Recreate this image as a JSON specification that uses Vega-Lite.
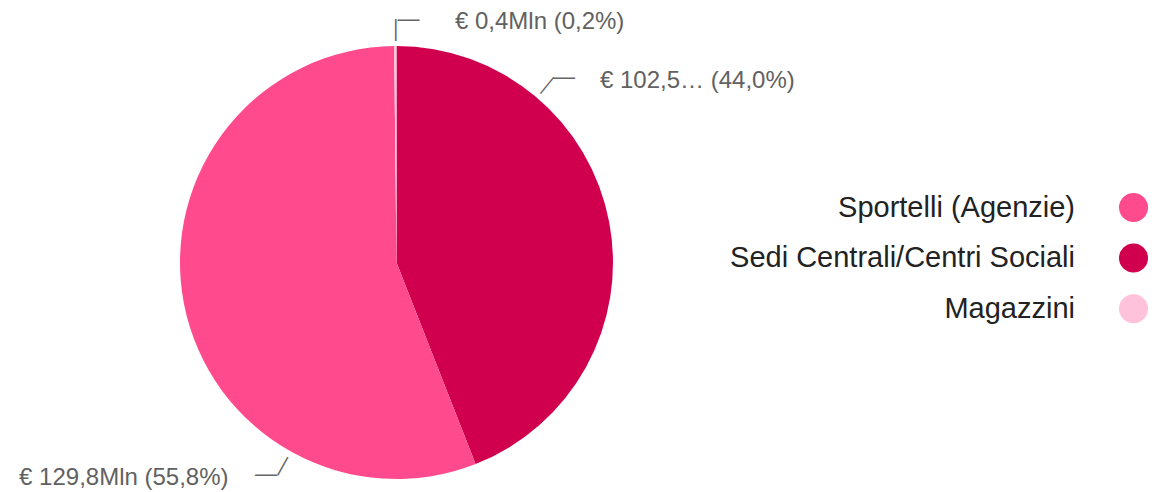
{
  "$schema": "https://vega.github.io/schema/vega-lite/v6.json",
  "width": 433,
  "height": 433,
  "autosize": {"type": "none"},
  "padding": {"left": 180, "top": 46, "right": 548, "bottom": 13},
  "background": "white",
  "config": {"view": {"stroke": null}, "font": "Liberation Sans"},
  "data": {
    "values": [
      {"category": "Sedi Centrali/Centri Sociali", "value": 102.5, "seq": 1, "label": "€ 102,5… (44,0%)"},
      {"category": "Sportelli (Agenzie)", "value": 129.8, "seq": 2, "label": "€ 129,8Mln (55,8%)"},
      {"category": "Magazzini", "value": 0.4, "seq": 3, "label": "€ 0,4Mln (0,2%)"}
    ]
  },
  "encoding": {
    "theta": {"field": "value", "type": "quantitative", "stack": true},
    "order": {"field": "seq", "type": "quantitative"}
  },
  "layer": [
    {
      "mark": {"type": "arc"},
      "encoding": {
        "color": {
          "field": "category",
          "type": "nominal",
          "scale": {
            "domain": ["Sportelli (Agenzie)", "Sedi Centrali/Centri Sociali", "Magazzini"],
            "range": ["#ff4a8d", "#d0004f", "#ffc2da"]
          },
          "legend": {
            "orient": "none",
            "legendX": 939,
            "legendY": 147,
            "title": null,
            "symbolType": "circle",
            "symbolSize": 841,
            "symbolStrokeWidth": 0,
            "symbolOpacity": 1,
            "labelFontSize": 29,
            "labelFont": "Liberation Sans",
            "labelColor": "#222222",
            "labelAlign": "right",
            "labelOffset": -73,
            "rowPadding": 20.6,
            "padding": 0,
            "labelLimit": 800
          }
        }
      }
    },
    {
      "mark": {
        "type": "text",
        "radius": 230,
        "fontSize": 24,
        "font": "Liberation Sans",
        "fill": "#616161",
        "baseline": "middle",
        "align": {"expr": "datum.seq === 2 ? 'right' : 'left'"},
        "dx": {"expr": "datum.seq === 1 ? -22.5 : datum.seq === 2 ? 57.8 : 59.7"},
        "dy": {"expr": "datum.seq === 1 ? -138.8 : datum.seq === 2 ? 171.5 : -10.5"}
      },
      "encoding": {"text": {"field": "label", "type": "nominal"}}
    },
    {
      "mark": {
        "type": "text",
        "radius": 230,
        "fontSize": 22,
        "font": "Liberation Sans",
        "fill": "#666666",
        "baseline": "middle",
        "align": "center",
        "dx": {"expr": "datum.seq === 1 ? -58.5 : datum.seq === 2 ? 95.3 : 13.2"},
        "dy": {"expr": "datum.seq === 1 ? -142.8 : datum.seq === 2 ? 168 : -13.5"}
      },
      "encoding": {"text": {"value": "—"}}
    },
    {
      "mark": {
        "type": "text",
        "radius": 230,
        "font": "Liberation Sans",
        "fill": "#666666",
        "baseline": "middle",
        "align": "center",
        "fontSize": {"expr": "datum.seq === 3 ? 22 : 21"},
        "angle": {"expr": "datum.seq === 1 ? 309.1 : datum.seq === 2 ? 299.1 : 90"},
        "dx": {"expr": "datum.seq === 1 ? 56.67 : datum.seq === 2 ? -85.24 : -2.5"},
        "dy": {"expr": "datum.seq === 1 ? -144.0 : datum.seq === 2 ? 174.8 : -1.7"}
      },
      "encoding": {"text": {"value": "—"}}
    }
  ]
}
